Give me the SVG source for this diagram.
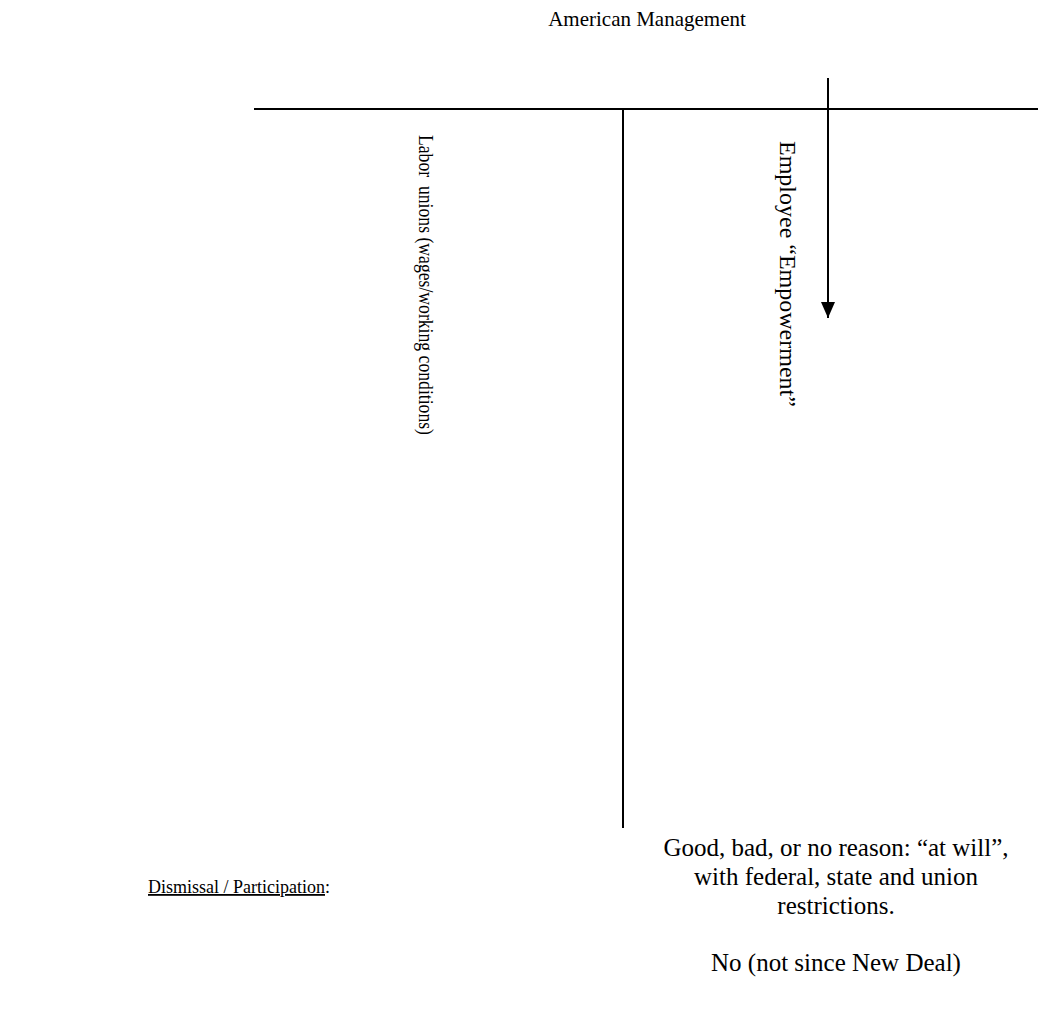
<svg xmlns="http://www.w3.org/2000/svg" width="1038" height="1009" viewBox="0 0 1038 1009">
  <style>
    text { font-family: "Liberation Serif", "Times New Roman", serif; font-size: 24px; fill: #000; }
    .title { font-size: 21px; }
    .side { font-size: 20px; }
    .label { font-size: 18px; }
    .answer { font-size: 25px; }
    .ln { stroke: #000; stroke-width: 2; fill: none; }
  </style>
  <defs>
    <marker id="arrow" viewBox="0 0 16 14" refX="16" refY="7" markerWidth="16" markerHeight="14" markerUnits="userSpaceOnUse" orient="auto">
      <path d="M0,0 L16,7 L0,14 z" fill="#000"/>
    </marker>
  </defs>

  <g id="title">
    <text class="title" x="647" y="26" text-anchor="middle">American Management</text>
  </g>

  <g id="connectors">
    <line class="ln" x1="254" y1="109" x2="1038" y2="109"/>
    <line class="ln" x1="623" y1="109" x2="623" y2="828"/>
    <line class="ln" x1="828" y1="78" x2="828" y2="318" marker-end="url(#arrow)"/>
  </g>

  <g id="labor-unions">
    <text class="side" transform="translate(419,135) rotate(90)" textLength="300" lengthAdjust="spacingAndGlyphs" xml:space="preserve">Labor  unions (wages/working conditions)</text>
  </g>

  <g id="employee-empowerment">
    <text transform="translate(780,141) rotate(90)">Employee “Empowerment”</text>
  </g>

  <g id="dismissal-label">
    <text class="label" x="148" y="893"><tspan text-decoration="underline">Dismissal / Participation</tspan>:</text>
  </g>

  <g id="dismissal-answer">
    <text class="answer" x="836" y="856" text-anchor="middle">Good, bad, or no reason: “at will”,</text>
    <text class="answer" x="836" y="885" text-anchor="middle">with federal, state and union</text>
    <text class="answer" x="836" y="914" text-anchor="middle">restrictions.</text>
  </g>

  <g id="participation-answer">
    <text class="answer" x="836" y="971" text-anchor="middle">No (not since New Deal)</text>
  </g>
</svg>
